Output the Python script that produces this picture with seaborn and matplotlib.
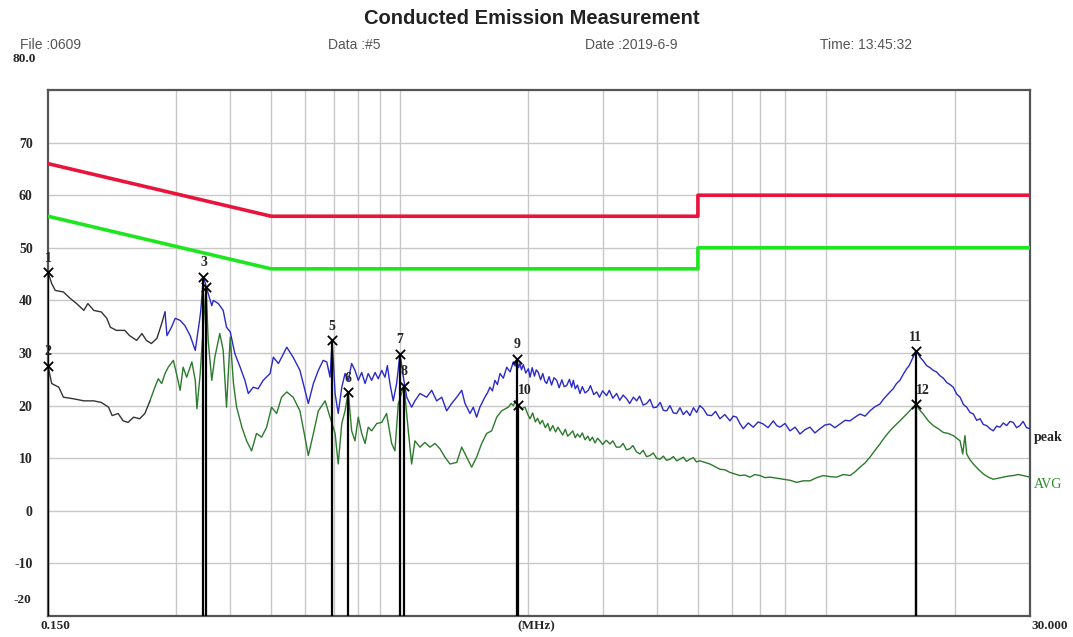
import numpy as np
import pandas as pd
import matplotlib
matplotlib.use("Agg")
import matplotlib.pyplot as plt
import seaborn as sns

# limit lines (QP and AVG)
qp_freq = [0.15, 0.5, 5.0, 5.0, 30.0]
qp_level = [66, 56, 56, 60, 60]
av_freq = [0.15, 0.5, 5.0, 5.0, 30.0]
av_level = [56, 46, 46, 50, 50]

# peak trace (MHz, dBuV)
peak_low = [
    (0.150, 45.4), (0.153, 43.2), (0.156, 41.9), (0.163, 41.6), (0.169, 40.4),
    (0.175, 39.4), (0.182, 38.1), (0.186, 39.4), (0.192, 38.1), (0.200, 37.8),
    (0.206, 36.6), (0.210, 34.9), (0.217, 34.3), (0.227, 34.3), (0.233, 33.3),
    (0.242, 32.4), (0.249, 33.7), (0.255, 32.4), (0.262, 31.8), (0.270, 32.8),
    (0.277, 35.6), (0.282, 37.8), (0.285, 33.3), (0.292, 34.9), (0.298, 36.6),
    (0.306, 36.2), (0.314, 35.2), (0.323, 33.3), (0.332, 30.5), (0.339, 35.6),
    (0.342, 38.0), (0.347, 44.5), (0.356, 41.3), (0.363, 39.0), (0.366, 40.0),
    (0.376, 39.4), (0.386, 38.1), (0.393, 34.9), (0.401, 34.0), (0.411, 29.9),
    (0.423, 27.3), (0.434, 24.8), (0.442, 22.3), (0.454, 23.5), (0.466, 23.2),
    (0.479, 24.8), (0.497, 26.1), (0.506, 29.2), (0.520, 28.0), (0.544, 31.1),
    (0.563, 29.2), (0.584, 26.7), (0.600, 22.9), (0.611, 20.4), (0.628, 24.2),
    (0.645, 26.7), (0.662, 28.6), (0.675, 28.3), (0.687, 25.4), (0.695, 32.4),
    (0.706, 22.3), (0.718, 18.5), (0.732, 23.5), (0.745, 26.1), (0.758, 24.8),
    (0.772, 28.0), (0.786, 26.7), (0.800, 24.8), (0.815, 26.3), (0.830, 24.2),
    (0.844, 26.1), (0.860, 24.8), (0.876, 26.3), (0.891, 25.1), (0.908, 26.7),
    (0.924, 25.4), (0.936, 27.6), (0.949, 24.2), (0.966, 20.9), (0.984, 24.2),
]
peak_mid = [
    (1.002, 29.9), (1.020, 25.5), (1.039, 21.6), (1.067, 19.7), (1.086, 20.9),
    (1.116, 22.3), (1.157, 21.6), (1.189, 22.9), (1.221, 20.9), (1.255, 21.6),
    (1.289, 19.0), (1.324, 20.4), (1.361, 21.6), (1.398, 22.9), (1.423, 20.4),
    (1.462, 18.5), (1.488, 19.7), (1.515, 17.8), (1.542, 19.7), (1.584, 21.6),
    (1.606, 22.4), (1.628, 23.5), (1.650, 22.8), (1.672, 24.8), (1.695, 24.0),
    (1.719, 26.1), (1.750, 25.2), (1.782, 27.3), (1.815, 26.4), (1.847, 28.3),
    (1.865, 27.5), (1.881, 28.9), (1.900, 27.2), (1.914, 28.0), (1.930, 26.8),
    (1.949, 27.8), (1.975, 26.2), (2.003, 27.0), (2.021, 25.4), (2.045, 27.2),
    (2.070, 25.6), (2.090, 26.8), (2.113, 26.3), (2.140, 24.9), (2.165, 26.1),
    (2.190, 24.6), (2.211, 24.2), (2.240, 25.5), (2.270, 23.9), (2.300, 25.3),
    (2.334, 24.8), (2.365, 23.4), (2.400, 24.9), (2.430, 23.6), (2.463, 23.8),
    (2.500, 25.0), (2.530, 23.5), (2.553, 24.8), (2.580, 23.2), (2.610, 23.9),
    (2.646, 22.3), (2.680, 23.6), (2.720, 22.4), (2.767, 22.9), (2.800, 23.8),
    (2.850, 22.1), (2.896, 22.6), (2.940, 21.6), (2.990, 22.8), (3.055, 21.9),
    (3.100, 22.9), (3.160, 21.4), (3.225, 22.3), (3.280, 21.0), (3.340, 22.0),
    (3.404, 21.3), (3.460, 20.4), (3.530, 21.6), (3.593, 20.9), (3.650, 21.8),
    (3.720, 20.1), (3.792, 20.4), (3.860, 21.2), (3.930, 19.6), (4.002, 19.7),
    (4.080, 20.6), (4.150, 19.1), (4.224, 19.0), (4.300, 20.0), (4.380, 18.6),
    (4.458, 18.5), (4.540, 19.6), (4.620, 18.3), (4.705, 19.0), (4.790, 18.1),
    (4.880, 19.6), (4.966, 18.7), (5.050, 20.0), (5.147, 19.4), (5.260, 18.2),
]
peak_high = [
    (5.383, 18.1), (5.500, 18.9), (5.631, 17.5), (5.780, 18.3), (5.944, 17.1),
    (6.050, 18.0), (6.162, 17.8), (6.270, 16.6), (6.386, 15.6), (6.560, 16.7),
    (6.740, 15.9), (6.920, 16.9), (7.113, 16.5), (7.300, 15.8), (7.509, 17.1),
    (7.650, 16.2), (7.785, 15.9), (8.000, 16.6), (8.217, 15.2), (8.450, 15.9),
    (8.672, 14.6), (8.900, 15.4), (9.153, 15.9), (9.400, 14.8), (9.660, 15.6),
    (9.920, 16.3), (10.19, 16.5), (10.47, 15.8), (10.76, 16.5), (11.06, 17.2),
    (11.36, 17.1), (11.67, 17.8), (11.99, 18.4), (12.32, 18.0), (12.65, 19.0),
    (13.00, 19.8), (13.35, 20.3), (13.60, 21.2), (13.84, 21.9), (14.10, 22.6),
    (14.34, 23.2), (14.60, 24.2), (14.87, 24.8), (15.15, 26.0), (15.42, 27.0),
    (15.63, 27.6), (15.84, 28.6), (16.02, 29.5), (16.21, 30.4), (16.40, 29.9),
    (16.57, 29.2), (16.87, 28.5), (17.18, 27.6), (17.50, 27.2), (17.80, 26.7),
    (18.12, 26.4), (18.45, 25.7), (18.80, 25.2), (19.14, 24.4), (19.48, 24.0),
    (19.83, 23.5), (20.20, 22.2), (20.57, 21.6), (20.95, 20.2), (21.32, 19.7),
    (21.70, 18.7), (22.10, 18.4), (22.50, 17.2), (22.91, 17.5), (23.33, 16.4),
    (23.75, 16.2), (24.18, 15.6), (24.61, 15.2), (25.06, 16.1), (25.51, 15.9),
    (25.98, 16.7), (26.45, 16.2), (26.93, 17.0), (27.41, 16.8), (27.91, 15.8),
    (28.41, 16.2), (28.90, 17.0), (29.45, 15.8), (30.00, 15.6),
]

# average trace
avg_low = [
    (0.150, 27.6), (0.153, 24.2), (0.159, 23.5), (0.163, 21.6), (0.172, 21.3),
    (0.182, 20.9), (0.192, 20.9), (0.200, 20.6), (0.208, 19.7), (0.212, 18.1),
    (0.219, 18.5), (0.225, 17.1), (0.231, 16.8), (0.238, 17.8), (0.246, 17.5),
    (0.253, 18.5), (0.260, 20.9), (0.267, 23.5), (0.272, 25.1), (0.277, 24.2),
    (0.282, 26.1), (0.287, 27.3), (0.295, 28.6), (0.300, 26.1), (0.306, 22.9),
    (0.311, 27.3), (0.317, 25.4), (0.326, 28.3), (0.332, 24.8), (0.335, 19.4),
    (0.341, 26.1), (0.346, 34.0), (0.352, 42.5), (0.356, 32.4), (0.363, 24.8),
    (0.369, 29.2), (0.379, 33.7), (0.386, 30.5), (0.393, 19.7), (0.401, 33.0),
    (0.408, 24.2), (0.415, 19.7), (0.427, 15.9), (0.438, 13.3), (0.450, 11.4),
    (0.462, 14.7), (0.475, 14.0), (0.488, 15.9), (0.501, 19.7), (0.515, 18.5),
    (0.529, 21.6), (0.544, 22.6), (0.563, 21.6), (0.584, 19.0), (0.600, 14.0),
    (0.611, 10.5), (0.628, 14.7), (0.645, 19.0), (0.669, 20.9), (0.687, 17.8),
    (0.706, 14.7), (0.718, 8.9), (0.732, 16.6), (0.745, 19.0), (0.758, 22.6),
    (0.772, 15.2), (0.786, 13.3), (0.800, 17.8), (0.815, 14.7), (0.830, 12.8),
    (0.844, 15.9), (0.860, 15.2), (0.884, 16.6), (0.908, 16.8), (0.932, 18.5),
    (0.958, 12.8), (0.975, 11.4), (0.993, 20.4), (1.024, 23.8), (1.048, 15.2),
    (1.067, 8.9), (1.086, 13.3), (1.116, 12.1), (1.146, 13.0), (1.178, 12.1),
    (1.210, 12.8), (1.243, 11.8), (1.277, 10.2), (1.312, 8.9), (1.361, 9.2),
    (1.398, 12.1), (1.436, 10.2), (1.475, 8.3), (1.515, 10.2), (1.557, 12.8),
    (1.599, 14.7), (1.643, 15.2), (1.689, 17.8), (1.734, 19.0),
]
avg_mid = [
    (1.797, 19.7), (1.825, 20.4), (1.847, 20.0), (1.870, 20.9), (1.897, 20.2),
    (1.930, 19.4), (1.967, 19.7), (1.995, 18.4), (2.021, 17.5), (2.050, 18.6),
    (2.080, 16.9), (2.105, 17.6), (2.133, 16.5), (2.160, 17.2), (2.195, 15.8),
    (2.225, 16.6), (2.251, 15.2), (2.285, 16.2), (2.320, 15.0), (2.350, 15.9),
    (2.377, 15.2), (2.410, 14.4), (2.445, 15.5), (2.475, 14.2), (2.508, 14.6),
    (2.545, 15.2), (2.580, 13.9), (2.610, 14.6), (2.646, 14.0), (2.680, 14.8),
    (2.720, 13.5), (2.760, 14.2), (2.793, 13.3), (2.830, 14.0), (2.870, 12.9),
    (2.910, 13.8), (2.947, 13.3), (2.990, 12.6), (3.050, 13.4), (3.111, 12.7),
    (3.160, 13.3), (3.220, 12.1), (3.283, 12.1), (3.340, 12.8), (3.400, 11.6),
    (3.465, 11.8), (3.520, 12.4), (3.590, 11.2), (3.657, 10.8), (3.720, 11.5),
    (3.790, 10.3), (3.860, 10.5), (3.930, 11.0), (4.000, 10.0), (4.074, 9.8),
    (4.150, 10.4), (4.220, 9.6), (4.299, 9.8), (4.380, 10.3), (4.460, 9.5),
    (4.537, 9.8), (4.620, 10.2), (4.700, 9.4), (4.789, 9.8), (4.880, 10.1),
    (4.960, 9.3), (5.054, 9.5), (5.190, 9.2), (5.335, 8.9), (5.480, 8.4),
]
avg_high = [
    (5.631, 7.9), (5.780, 7.8), (5.944, 7.3), (6.110, 7.0), (6.272, 6.7),
    (6.440, 6.8), (6.619, 6.4), (6.800, 6.9), (6.987, 6.7), (7.180, 6.3),
    (7.375, 6.4), (7.650, 6.2), (7.925, 6.0), (8.220, 5.8), (8.517, 5.4),
    (8.830, 5.7), (9.153, 5.7), (9.490, 6.3), (9.832, 6.7), (10.20, 6.5),
    (10.57, 6.4), (10.96, 6.9), (11.36, 6.7), (11.67, 7.4), (11.99, 8.3),
    (12.32, 9.1), (12.65, 10.2), (13.00, 11.5), (13.35, 12.7), (13.70, 14.0),
    (14.09, 15.2), (14.48, 16.2), (14.87, 17.1), (15.21, 17.9), (15.55, 18.7),
    (15.88, 19.5), (16.21, 20.3), (16.53, 19.2), (16.86, 18.4), (17.33, 17.1),
    (17.80, 16.2), (18.29, 15.6), (18.79, 14.9), (19.31, 14.7), (19.83, 14.3),
    (20.20, 13.8), (20.57, 13.3), (20.87, 10.8), (21.12, 14.3), (21.32, 10.8),
    (21.70, 9.7), (22.10, 8.9), (22.70, 7.9), (23.32, 7.0), (23.96, 6.4),
    (24.61, 6.0), (25.28, 6.2), (25.97, 6.4), (26.68, 6.6), (27.41, 6.7),
    (28.16, 6.9), (28.92, 6.7), (30.00, 6.4),
]

# first part of each scan is drawn in black
peak_black_end = 0.282
avg_black_end = 0.260

# measurement markers
marker_no = [1, 2, 3, 4, 5, 6, 7, 8, 9, 10, 11, 12]
marker_freq = [0.150, 0.150, 0.347, 0.352, 0.695, 0.758, 1.002, 1.024, 1.881, 1.897, 16.21, 16.21]
marker_level = [45.4, 27.6, 44.5, 42.5, 32.4, 22.6, 29.9, 23.8, 28.9, 20.2, 30.4, 20.3]
hidden_labels = [4]   # label 4 sits under marker 3 in the original

grid_freq = [0.3, 0.4, 0.5, 0.6, 0.7, 0.8, 0.9, 1, 2, 3, 4, 5, 6, 7, 8, 10, 20]
y_ticks = [70, 60, 50, 40, 30, 20, 10, 0, -10]

sns.set_style("white")
plt.rcParams['font.family'] = ['Liberation Sans', 'DejaVu Sans']

W, H = 1073, 637
fig = plt.figure(figsize=(W / 100, H / 100), dpi=100)
ax = fig.add_axes([48 / W, 1 - 616 / H, 982 / W, 526 / H])
ax.set_xscale('log')
ax.set_xlim(0.15, 30)
ax.set_ylim(-20, 80)

for f in grid_freq:
    ax.axvline(f, color='#c8c8c8', lw=1, zorder=0)
for y in y_ticks:
    ax.axhline(y, color='#c8c8c8', lw=1, zorder=0)

# limits
sns.lineplot(x=qp_freq, y=qp_level, ax=ax, color='#e8143c', lw=2.6,
             sort=False, estimator=None, zorder=3)
sns.lineplot(x=av_freq, y=av_level, ax=ax, color='#1ee61e', lw=2.6,
             sort=False, estimator=None, zorder=3)

peak = pd.DataFrame(peak_low + peak_mid + peak_high, columns=['freq', 'level'])
avg = pd.DataFrame(avg_low + avg_mid + avg_high, columns=['freq', 'level'])

def draw_trace(df, split, c_first, c_rest):
    first = df[df['freq'] <= split]
    rest = df[df['freq'] >= split]
    sns.lineplot(data=first, x='freq', y='level', ax=ax, color=c_first, lw=1.0,
                 sort=False, estimator=None, zorder=4)
    sns.lineplot(data=rest, x='freq', y='level', ax=ax, color=c_rest, lw=1.0,
                 sort=False, estimator=None, zorder=4)

draw_trace(avg, avg_black_end, '#333333', '#2c7a2c')
draw_trace(peak, peak_black_end, '#333333', '#2a2ac8')

# markers with drop lines
ax.vlines(marker_freq, -20, marker_level, colors='black', lw=1.6, zorder=5)
sns.scatterplot(x=marker_freq, y=marker_level, ax=ax, marker='x', s=45,
                color='black', linewidth=1.3, zorder=6, clip_on=False)
for n, f, lv in zip(marker_no, marker_freq, marker_level):
    if n in hidden_labels:
        continue
    dx = 5 if n in (10, 12) else 0
    ax.annotate(str(n), (f, lv), xytext=(dx, 10), textcoords='offset points',
                ha='center', va='center', fontsize=10, fontweight='bold',
                family='Liberation Serif', zorder=7)

ax.set_xticks([])
ax.set_xticks([], minor=True)
ax.set_yticks(y_ticks)
ax.set_yticklabels([str(v) for v in y_ticks], fontsize=10, fontweight='bold',
                   family='Liberation Serif')
ax.tick_params(axis='y', length=0, pad=11)
ax.set_xlabel('')
ax.set_ylabel('')
for s in ax.spines.values():
    s.set_color('#555555')
    s.set_linewidth(1.6)

ytr = ax.get_yaxis_transform()
ax.text(1.004, 13.9, 'peak', transform=ytr, fontsize=10, va='center', ha='left',
        family='Liberation Serif', fontweight='bold')
ax.text(1.004, 5.0, 'AVG', transform=ytr, fontsize=10, va='center', ha='left',
        family='Liberation Serif', color='#2c8a2c')

def ftext(x, y, s, **kw):
    fig.text(x / W, 1 - y / H, s, **kw)

ftext(532, 18, 'Conducted Emission Measurement', ha='center', va='center',
      fontsize=14.5, fontweight='bold', color='#222222')
info = dict(ha='left', va='center', fontsize=10, color='#555555')
ftext(20, 45, 'File :0609', **info)
ftext(328, 45, 'Data :#5', **info)
ftext(585, 45, 'Date :2019-6-9', **info)
ftext(820, 45, 'Time: 13:45:32', **info)

lab = dict(fontsize=9.5, fontweight='bold', family='Liberation Serif', va='center')
ftext(24, 59, '80.0', ha='center', **lab)
ftext(22, 600, '-20', ha='center', **lab)
ftext(55, 626, '0.150', ha='center', **lab)
ftext(536, 626, '(MHz)', ha='center', **lab)
ftext(1050, 626, '30.000', ha='center', **lab)

fig.savefig('out.png', dpi=100)
